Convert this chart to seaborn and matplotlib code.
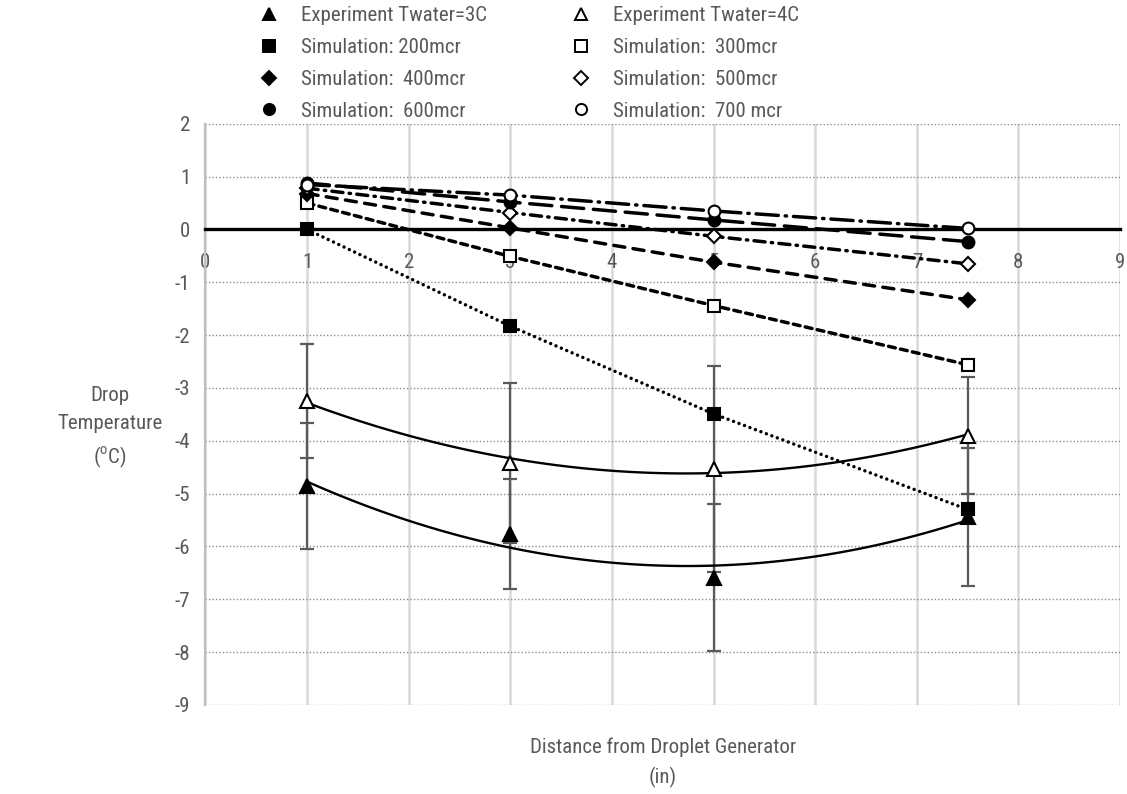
import matplotlib
matplotlib.use("Agg")
import matplotlib.pyplot as plt
import seaborn as sns
import numpy as np
import pandas as pd
from matplotlib.lines import Line2D
from matplotlib.ticker import MultipleLocator
from matplotlib import font_manager

# ---------------- data ----------------
distance = [1, 3, 5, 7.5]
exp_3c = [-4.86, -5.77, -6.59, -5.44]
exp_3c_err = [1.19, 1.04, 1.39, 1.31]
exp_4c = [-3.25, -4.42, -4.53, -3.90]
exp_4c_err = [1.08, 1.52, 1.95, 1.10]
sim_200 = [0.00, -1.83, -3.49, -5.30]
sim_300 = [0.50, -0.51, -1.44, -2.56]
sim_400 = [0.68, 0.03, -0.62, -1.33]
sim_500 = [0.78, 0.32, -0.13, -0.65]
sim_600 = [0.88, 0.52, 0.18, -0.23]
sim_700 = [0.85, 0.65, 0.35, 0.02]
x_ticks = [0, 1, 2, 3, 4, 5, 6, 7, 8, 9]
y_ticks = [2, 1, 0, -1, -2, -3, -4, -5, -6, -7, -8, -9]
labels = ["Experiment Twater=3C", "Experiment Twater=4C",
          "Simulation: 200mcr", "Simulation:  300mcr",
          "Simulation:  400mcr", "Simulation:  500mcr",
          "Simulation:  600mcr", "Simulation:  700 mcr"]

sns.set_theme(style="white")
available = {f.name for f in font_manager.fontManager.ttflist}
fam = [f for f in ["Roboto Condensed", "Liberation Sans Narrow", "Lato"] if f in available]
condensed = bool(fam) and fam[0] != "Lato"
plt.rcParams["font.family"] = fam + ["DejaVu Sans"]
plt.rcParams["lines.scale_dashes"] = False
TXT = "#595959"
FS = 15 if condensed else 14

fig = plt.figure(figsize=(11.27, 7.94), dpi=100)
ax = fig.add_axes([0.1823, 0.1121, 0.8115, 0.7320])

# simulation series
sims = [
    (sim_200, "s", "black", (0, (0.01, 4.2)), 8.5),
    (sim_300, "s", "white", (0, (5.0, 3.8)), 8.5),
    (sim_400, "D", "black", (0, (8, 6)), 7.5),
    (sim_500, "D", "white", (0, (8, 4.5, 1.0, 4.5)), 7.5),
    (sim_600, "o", "black", (0, (16, 7)), 8.5),
    (sim_700, "o", "white", (0, (16, 5, 1.0, 5)), 8.5),
]
for vals, mk, fc, ls, ms in sims:
    df = pd.DataFrame({"x": distance, "y": vals})
    sns.lineplot(data=df, x="x", y="y", ax=ax, sort=False, color="black",
                 linestyle=ls, lw=2.5, dash_capstyle="round",
                 marker=mk, markersize=ms, markerfacecolor=fc,
                 markeredgecolor="black", markeredgewidth=1.5, zorder=4)

# experiment series: error bars, trendlines, markers
for vals, err, fc in [(exp_3c, exp_3c_err, "black"), (exp_4c, exp_4c_err, "white")]:
    ax.errorbar(distance, vals, yerr=err, fmt="none", ecolor="#5a5a5a",
                elinewidth=1.6, capsize=5, capthick=1.6, zorder=3)
    sns.regplot(x=np.array(distance), y=np.array(vals), ax=ax, order=2, ci=None,
                scatter=False, truncate=True,
                line_kws=dict(color="black", lw=1.7, zorder=4))
    ax.plot(distance, vals, ls="none", marker="^", markersize=10.5,
            markerfacecolor=fc, markeredgecolor="black", markeredgewidth=1.5,
            zorder=5)

# axes
ax.set_xlim(0, 9)
ax.set_ylim(-9, 2)
ax.set_xticks(x_ticks)
ax.set_yticks(y_ticks)
ax.xaxis.set_minor_locator(MultipleLocator(0.2))
ax.yaxis.set_minor_locator(MultipleLocator(0.2))
ax.spines["top"].set_visible(False)
ax.spines["right"].set_visible(False)
ax.spines["bottom"].set_position(("data", 0))
ax.spines["bottom"].set_color("black")
ax.spines["bottom"].set_linewidth(2.4)
ax.spines["bottom"].set_zorder(3.5)
ax.spines["left"].set_color("#bfbfbf")
ax.spines["left"].set_linewidth(1.6)

ax.tick_params(axis="x", which="major", direction="out", length=5, width=1.2,
               color="#bfbfbf", pad=12, labelsize=FS, labelcolor=TXT)
ax.tick_params(axis="x", which="minor", direction="out", length=5, width=1.2,
               color="#bfbfbf")
ax.tick_params(axis="y", which="major", direction="out", length=5, width=1.4,
               color="#bfbfbf", pad=6, labelsize=FS, labelcolor=TXT)
ax.tick_params(axis="y", which="minor", direction="out", length=4, width=1.2,
               color="#bfbfbf")
ax.set_xticklabels([str(t) for t in x_ticks])
ax.set_yticklabels([str(t) for t in y_ticks])

ax.grid(False)
ax.xaxis.grid(True, which="major", color="#d9d9d9", lw=1.8, ls="-", zorder=0)
ax.yaxis.grid(True, which="major", color="#8c8c8c", lw=1.0, ls=(0, (1, 1.5)), zorder=0)
ax.set_axisbelow(True)
ax.set_xlabel("")
ax.set_ylabel("")

# axis titles
fig.text(110 / 1127, 1 - 428 / 794, "Drop\nTemperature\n($^{\\mathregular{o}}$C)",
         ha="center", va="center", fontsize=FS, color=TXT, linespacing=1.6)
fig.text(0.1823 + 0.8115 / 2, 1 - 763 / 794,
         "Distance from Droplet Generator\n(in)",
         ha="center", va="center", fontsize=FS, color=TXT, linespacing=1.6)

# legend (two columns)
marks = [("^", "black"), ("^", "white"), ("s", "black"), ("s", "white"),
         ("D", "black"), ("D", "white"), ("o", "black"), ("o", "white")]
handles = [Line2D([], [], ls="none", marker=m,
                  markersize=(9 if m == "^" else 7 if m == "D" else 8),
                  markerfacecolor=c, markeredgecolor="black", markeredgewidth=1.4)
           for m, c in marks]
for col, xpx in [(0, 259), (1, 571)]:
    idx = [col, col + 2, col + 4, col + 6]
    leg = fig.legend([handles[i] for i in idx], [labels[i] for i in idx],
                     loc="upper left", bbox_to_anchor=(xpx / 1127, 1 - 6 / 794),
                     frameon=False, fontsize=FS, handlelength=1.0,
                     handletextpad=1.0, labelspacing=0.62 if condensed else 0.62,
                     borderpad=0, borderaxespad=0)
    for t in leg.get_texts():
        t.set_color(TXT)

fig.savefig("out.png", dpi=100)
